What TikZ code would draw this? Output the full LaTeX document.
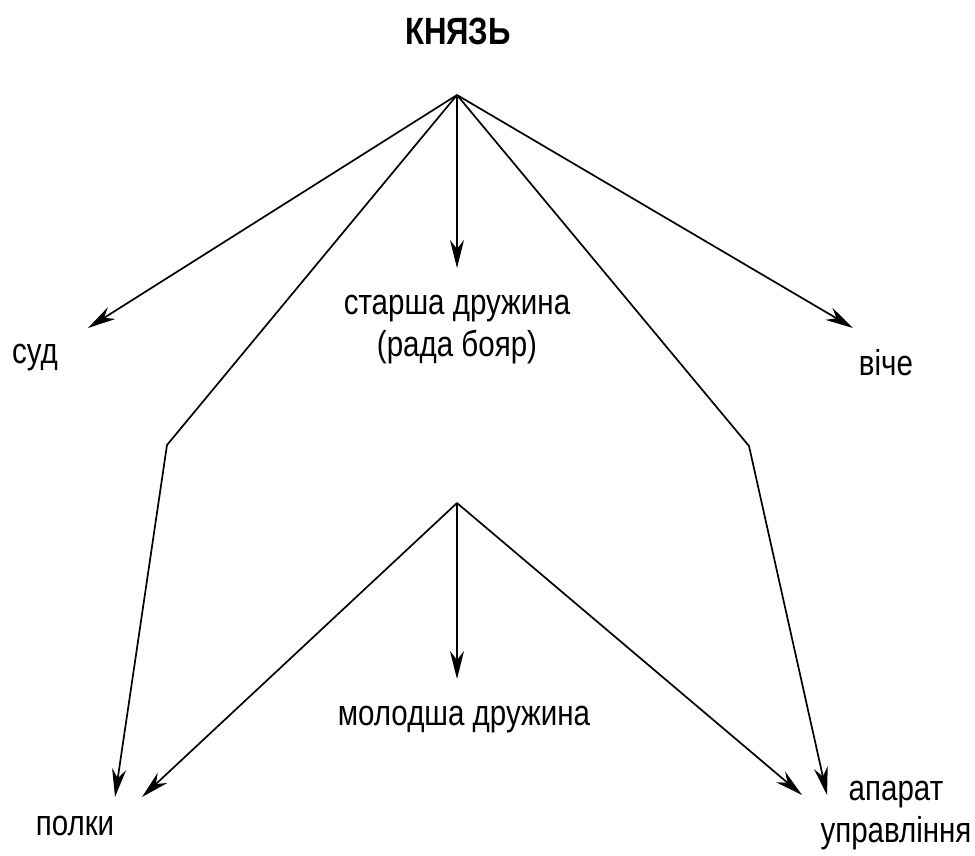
\documentclass[tikz,border=0pt]{standalone}
\usepackage{fontspec}
\setmainfont[FakeStretch=0.82]{Liberation Sans}
\usetikzlibrary{arrows.meta}
\begin{document}
\begin{tikzpicture}[x=1pt,y=-1pt,
  lbl/.style={anchor=base,inner sep=0pt,font=\fontsize{36}{42}\selectfont},
  ttl/.style={anchor=base,inner sep=0pt,font=\fontsize{38}{44}\selectfont\bfseries},
  conn/.style={line width=1.7pt,line join=miter},
  arr/.style={conn,-{Stealth[length=28pt,width=14pt,inset=9pt]}}]
\useasboundingbox (0,0) rectangle (975,855);
% texts
\node[ttl] (knyaz) at (458,44) {КНЯЗЬ};
\node[lbl] (sud) at (35,363) {суд};
\node[lbl,align=center] (starsha) at (457,356) {старша дружина\\(рада бояр)};
\node[lbl] (viche) at (886,375) {віче};
\node[lbl] (molodsha) at (464,725) {молодша дружина};
\node[lbl] (polky) at (75,835) {полки};
\node[lbl,align=center] (aparat) at (896,842) {апарат\\управління};
% points
\coordinate (A) at (457,95);
\coordinate (B) at (457,503);
\coordinate (tsud) at (88,328);
\coordinate (tstar) at (457,268);
\coordinate (tviche) at (853,328);
\coordinate (kl) at (167,445);
\coordinate (kr) at (749,446);
\coordinate (tpolk1) at (115,797);
\coordinate (tapar1) at (827,795);
\coordinate (tpolk2) at (142,797);
\coordinate (tapar2) at (802,795);
\coordinate (tmol) at (457,679);
% connectors
\draw[arr] (A) -- (tsud);
\draw[arr] (A) -- (tstar);
\draw[arr] (A) -- (tviche);
\draw[arr] (A) -- (kl) -- (tpolk1);
\draw[arr] (A) -- (kr) -- (tapar1);
\draw[arr] (B) -- (tpolk2);
\draw[arr] (B) -- (tmol);
\draw[arr] (B) -- (tapar2);
\end{tikzpicture}
\end{document}
